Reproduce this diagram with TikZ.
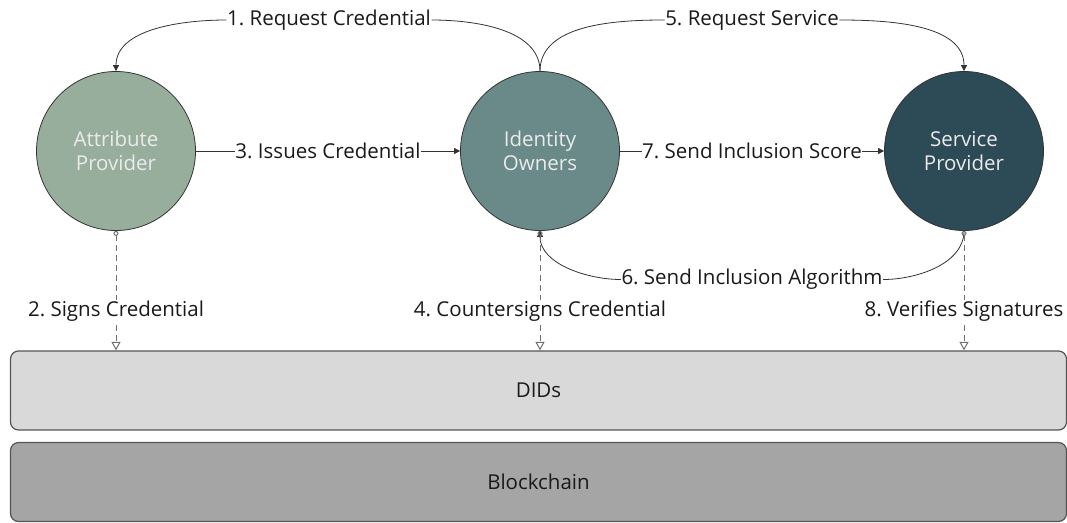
\documentclass[tikz,border=0pt]{standalone}
\usepackage{fontspec}
\setmainfont{Open Sans}
\usetikzlibrary{arrows.meta}
\definecolor{apfill}{HTML}{98AE9C}
\definecolor{iofill}{HTML}{698A89}
\definecolor{spfill}{HTML}{2D4A57}
\definecolor{didfill}{HTML}{D9D9D9}
\definecolor{bcfill}{HTML}{A5A5A5}
\definecolor{edge}{HTML}{333333}
\definecolor{boxline}{HTML}{555555}
\definecolor{dash}{HTML}{707070}
\definecolor{txt}{HTML}{1A1A1A}
\begin{document}
\frenchspacing
\begin{tikzpicture}[x=1pt,y=-1pt,
  actor/.style={circle,draw=edge,line width=0.8pt,minimum size=159pt,inner sep=0pt,
    text=white!92!black,align=center,font=\fontsize{20.5}{23.5}\selectfont},
  layer/.style={draw=boxline,line width=1.2pt,rounded corners=8pt,minimum width=1056pt,
    minimum height=79pt,inner sep=0pt,text=txt,font=\fontsize{20.5}{24}\selectfont},
  lbl/.style={fill=white,inner sep=0.5pt,text=txt,font=\fontsize{20.5}{24}\selectfont},
  flow/.style={draw=edge,line width=0.8pt,-{Triangle[length=6pt,width=6pt]}},
  plain/.style={draw=edge,line width=0.8pt},
  sign/.style={draw=dash,line width=1pt,dash pattern=on 6pt off 4pt,
    {Circle[open,length=5pt,width=5pt]}-{Triangle[open,length=8.5pt,width=9pt]}}
  ]
\useasboundingbox (0,0) rectangle (1067,522);
\node[actor,fill=apfill] (ap) at (116,151) {Attribute\\Provider};
\node[actor,fill=iofill] (io) at (540,151) {Identity\\Owners};
\node[actor,fill=spfill] (sp) at (964,151) {Service\\Provider};
\node[layer,fill=didfill] (did) at (538.5,390.5) {DIDs};
\node[layer,fill=bcfill] (bc) at (538.5,482) {Blockchain};
% top curved edges
\node[lbl] (l1) at (329,20) {1. Request Credential};
\node[lbl] (l5) at (752,20) {5. Request Service};
\draw[plain] (io.north) to[out=90,in=0,looseness=0.9] (l1.east);
\draw[flow] (l1.west) to[out=180,in=90,looseness=0.9] (ap.north);
\draw[plain] (io.north) to[out=90,in=180,looseness=0.9] (l5.west);
\draw[flow] (l5.east) to[out=0,in=90,looseness=0.9] (sp.north);
% straight edges
\draw[flow] (ap.east) -- node[lbl] (l3) {3. Issues Credential} (io.west);
\draw[flow] (io.east) -- node[lbl] (l7) {7. Send Inclusion Score} (sp.west);
% bottom curved edge
\node[lbl] (l6) at (752,279.5) {6. Send Inclusion Algorithm};
\draw[plain] (sp.south) to[out=-90,in=0,looseness=0.9] (l6.east);
\draw[flow] (l6.west) to[out=180,in=-90,looseness=0.9] (io.south);
% dashed signing edges
\coordinate (d1) at (ap.south |- did.north);
\coordinate (d2) at (io.south |- did.north);
\coordinate (d3) at (sp.south |- did.north);
\draw[sign] (ap.south) -- (d1);
\draw[sign] (io.south) -- (d2);
\draw[sign] (sp.south) -- (d3);
\node[lbl] (l2) at (116,311) {2. Signs Credential};
\node[lbl] (l4) at (540,311) {4. Countersigns Credential};
\node[lbl] (l8) at (964,311) {8. Verifies Signatures};
\end{tikzpicture}
\end{document}
